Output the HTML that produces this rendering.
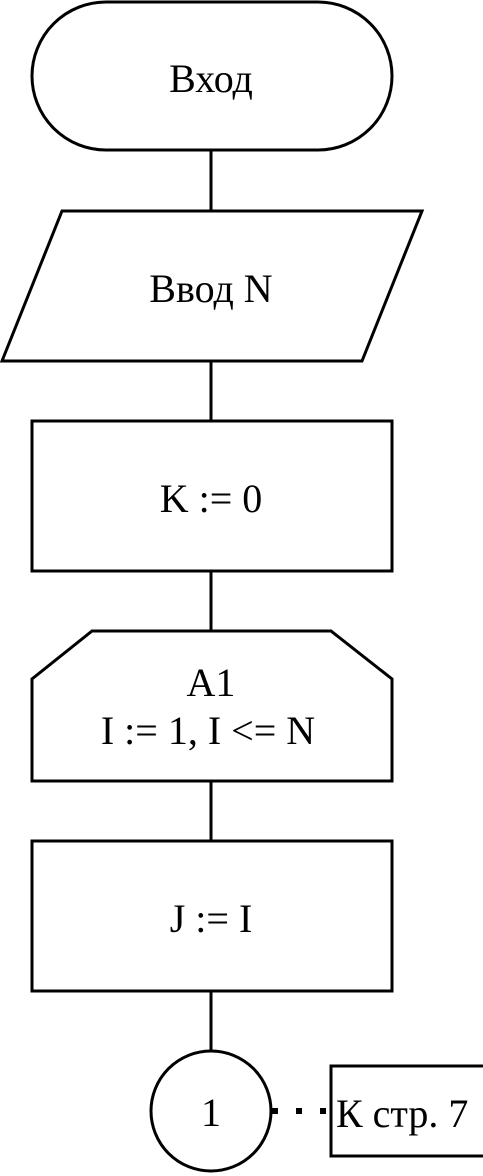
<!DOCTYPE html>
<html><head><meta charset="utf-8"><style>
html,body{margin:0;padding:0;background:#fff;}
svg{display:block;}
text{font-family:"Liberation Serif",serif;font-size:40px;fill:#000;}
</style></head><body>
<svg width="483" height="1176" viewBox="0 0 483 1176">
<g fill="none" stroke="#000" stroke-width="3">
<rect x="32" y="2" width="360" height="148" rx="74" ry="74"/>
<line x1="211" y1="150" x2="211" y2="211"/>
<polygon points="62,211 422,211 362,361 2,361"/>
<line x1="211" y1="361" x2="211" y2="421"/>
<rect x="32" y="421" width="360" height="150"/>
<line x1="211" y1="571" x2="211" y2="631"/>
<polygon points="92,631 331,631 392,679 392,781 32,781 32,679"/>
<line x1="211" y1="781" x2="211" y2="841"/>
<rect x="32" y="841" width="360" height="150"/>
<line x1="211" y1="991" x2="211" y2="1051"/>
<circle cx="211" cy="1111" r="60"/>
<polyline points="485,1066 331,1066 331,1156 485,1156"/>
</g>
<g fill="#000">
<rect x="272" y="1108" width="6" height="6"/>
<rect x="296" y="1108" width="6" height="6"/>
<rect x="320" y="1108" width="6" height="6"/>
</g>
<text x="211" y="92" text-anchor="middle">Вход</text>
<text x="211" y="302" text-anchor="middle">Ввод N</text>
<text x="211" y="512" text-anchor="middle">K := 0</text>
<text x="211" y="696" text-anchor="middle">A1</text>
<text x="208" y="744" text-anchor="middle">I := 1, I &lt;= N</text>
<text x="211" y="932" text-anchor="middle">J := I</text>
<text x="211" y="1126" text-anchor="middle">1</text>
<text x="336" y="1127">К стр. 7</text>
</svg>
</body></html>
